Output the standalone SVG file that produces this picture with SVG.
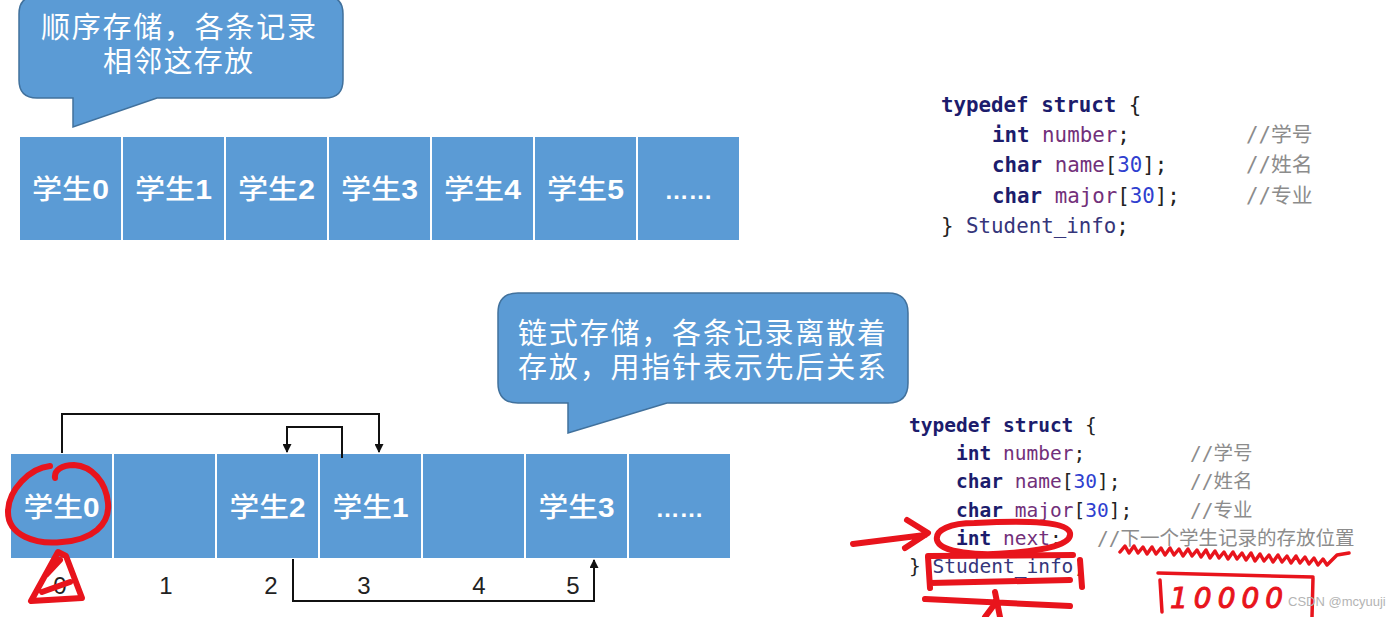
<svg xmlns="http://www.w3.org/2000/svg" width="1395" height="617" viewBox="0 0 1395 617">
<style>
.cell{fill:#5b9bd5;stroke:#ffffff;stroke-width:2}
.lbl{font-family:"Noto Sans CJK SC","Liberation Sans",sans-serif;font-size:27px;fill:#ffffff;text-anchor:middle;font-weight:500}
.lbl .d{font-family:"Liberation Sans",sans-serif;font-weight:bold}
.dots{font-family:"Liberation Sans",sans-serif;font-size:24px;fill:#ffffff;font-weight:bold;text-anchor:middle}
.callout{fill:#5b9bd5;stroke:#41719c;stroke-width:1.5}
.ct{font-family:"Noto Sans CJK SC",sans-serif;font-size:29px;fill:#ffffff}
.idx{font-family:"Liberation Sans",sans-serif;font-size:24px;fill:#222222;text-anchor:middle}
.code1{font-family:"DejaVu Sans Mono","Noto Sans CJK SC",monospace;font-size:20.8px;fill:#222222}
.code2{font-family:"DejaVu Sans Mono","Noto Sans CJK SC",monospace;font-size:19.5px;fill:#222222}
.kw{fill:#1c1c6c;font-weight:bold}
.id{fill:#72307a}
.num{fill:#2f3fcf}
.ty{fill:#35357a}
.cm{fill:#8c8c8c}
.conn{fill:none;stroke:#111111;stroke-width:2}
.red{fill:none;stroke:#e8141c;stroke-width:6;stroke-linecap:round;stroke-linejoin:round}
.redthin{fill:none;stroke:#e8141c;stroke-width:3.5;stroke-linecap:round;stroke-linejoin:round}
</style>
<defs>
<marker id="ah2" viewBox="0 0 10 10" refX="9" refY="5" markerWidth="10" markerHeight="9" orient="auto" markerUnits="userSpaceOnUse">
<path d="M0,0 L10,5 L0,10 Z" fill="#111111"/>
</marker>
</defs>
<rect width="1395" height="617" fill="#ffffff"/>

<!-- Top callout -->
<g id="callout-seq">
<path class="callout" d="M37,-4 H325 Q343,-4 343,14 V80 Q343,98 325,98 H157 L73,127 L73,98 H37 Q19,98 19,80 V14 Q19,-4 37,-4 Z"/>
<text class="ct"><tspan x="41" y="38" textLength="275" lengthAdjust="spacing">顺序存储，各条记录</tspan><tspan x="103" y="72" textLength="150" lengthAdjust="spacing">相邻这存放</tspan></text>
</g>

<!-- Top row (sequential) -->
<g id="seq-0"><rect class="cell" x="19" y="136" width="103" height="105"/><text class="lbl" x="70.5" y="199" textLength="77" lengthAdjust="spacingAndGlyphs">学生<tspan class="d">0</tspan></text></g>
<g id="seq-1"><rect class="cell" x="122" y="136" width="103" height="105"/><text class="lbl" x="173.5" y="199" textLength="77" lengthAdjust="spacingAndGlyphs">学生<tspan class="d">1</tspan></text></g>
<g id="seq-2"><rect class="cell" x="225" y="136" width="103" height="105"/><text class="lbl" x="276.5" y="199" textLength="77" lengthAdjust="spacingAndGlyphs">学生<tspan class="d">2</tspan></text></g>
<g id="seq-3"><rect class="cell" x="328" y="136" width="103" height="105"/><text class="lbl" x="379.5" y="199" textLength="77" lengthAdjust="spacingAndGlyphs">学生<tspan class="d">3</tspan></text></g>
<g id="seq-4"><rect class="cell" x="431" y="136" width="103" height="105"/><text class="lbl" x="482.5" y="199" textLength="77" lengthAdjust="spacingAndGlyphs">学生<tspan class="d">4</tspan></text></g>
<g id="seq-5"><rect class="cell" x="534" y="136" width="103" height="105"/><text class="lbl" x="585.5" y="199" textLength="77" lengthAdjust="spacingAndGlyphs">学生<tspan class="d">5</tspan></text></g>
<g id="seq-6"><rect class="cell" x="637" y="136" width="103" height="105"/><text class="dots" x="688.5" y="199">……</text></g>

<!-- Code block 1 -->
<g id="code-1" class="code1">
<text x="941" y="112"><tspan class="kw">typedef struct</tspan> {</text>
<text x="992" y="142"><tspan class="kw">int</tspan> <tspan class="id">number</tspan>;</text>
<text x="992" y="172"><tspan class="kw">char</tspan> <tspan class="id">name</tspan>[<tspan class="num">30</tspan>];</text>
<text x="992" y="203"><tspan class="kw">char</tspan> <tspan class="id">major</tspan>[<tspan class="num">30</tspan>];</text>
<text x="941" y="233">} <tspan class="ty">Student_info</tspan>;</text>
<text class="cm" x="1246" y="142">//学号</text>
<text class="cm" x="1246" y="172">//姓名</text>
<text class="cm" x="1246" y="203">//专业</text>
</g>

<!-- Bottom callout -->
<g id="callout-link">
<path class="callout" d="M518,293 H888 Q908,293 908,313 V383 Q908,403 888,403 H667 L568,433 L568,403 H518 Q498,403 498,383 V313 Q498,293 518,293 Z"/>
<text class="ct"><tspan x="518" y="344" textLength="368" lengthAdjust="spacing">链式存储，各条记录离散着</tspan><tspan x="518" y="378" textLength="368" lengthAdjust="spacing">存放，用指针表示先后关系</tspan></text>
</g>

<!-- Bottom row (linked) -->
<g id="link-0"><rect class="cell" x="10" y="453" width="103" height="106"/><text class="lbl" x="61.5" y="517" textLength="76" lengthAdjust="spacingAndGlyphs">学生<tspan class="d">0</tspan></text></g>
<g id="link-1"><rect class="cell" x="113" y="453" width="103" height="106"/></g>
<g id="link-2"><rect class="cell" x="216" y="453" width="103" height="106"/><text class="lbl" x="267.5" y="517" textLength="76" lengthAdjust="spacingAndGlyphs">学生<tspan class="d">2</tspan></text></g>
<g id="link-3"><rect class="cell" x="319" y="453" width="103" height="106"/><text class="lbl" x="370.5" y="517" textLength="76" lengthAdjust="spacingAndGlyphs">学生<tspan class="d">1</tspan></text></g>
<g id="link-4"><rect class="cell" x="422" y="453" width="103" height="106"/></g>
<g id="link-5"><rect class="cell" x="525" y="453" width="103" height="106"/><text class="lbl" x="576.5" y="517" textLength="76" lengthAdjust="spacingAndGlyphs">学生<tspan class="d">3</tspan></text></g>
<g id="link-6"><rect class="cell" x="628" y="453" width="103" height="106"/><text class="dots" x="679.5" y="517">……</text></g>

<!-- Index labels -->
<g id="indices">
<text class="idx" x="60" y="594">0</text>
<text class="idx" x="166" y="594">1</text>
<text class="idx" x="271" y="594">2</text>
<text class="idx" x="364" y="594">3</text>
<text class="idx" x="479" y="594">4</text>
<text class="idx" x="573" y="594">5</text>
</g>

<!-- Connectors -->
<g id="connectors">
<path class="conn" d="M62,453 V414 H379 V452" marker-end="url(#ah2)"/>
<path class="conn" d="M342,458 V427 H287 V452" marker-end="url(#ah2)"/>
<path class="conn" d="M293,559 V601 H594 V560" marker-end="url(#ah2)"/>
</g>

<!-- Code block 2 -->
<g id="code-2" class="code2">
<text x="909" y="432"><tspan class="kw">typedef struct</tspan> {</text>
<text x="956" y="460"><tspan class="kw">int</tspan> <tspan class="id">number</tspan>;</text>
<text x="956" y="488"><tspan class="kw">char</tspan> <tspan class="id">name</tspan>[<tspan class="num">30</tspan>];</text>
<text x="956" y="517"><tspan class="kw">char</tspan> <tspan class="id">major</tspan>[<tspan class="num">30</tspan>];</text>
<text x="956" y="545"><tspan class="kw">int</tspan> <tspan class="id">next</tspan>;</text>
<text x="909" y="573">} <tspan class="ty">Student_info</tspan>;</text>
<text class="cm" x="1190" y="460">//学号</text>
<text class="cm" x="1190" y="488">//姓名</text>
<text class="cm" x="1190" y="517">//专业</text>
<text class="cm" x="1097" y="545">//下一个学生记录的存放位置</text>
</g>

<!-- Red handwritten annotations -->
<g id="annotations">
<path class="red" d="M50,466 C30,468 8,490 8,512 C8,535 35,545 62,542 C92,540 110,525 108,503 C106,482 92,466 74,465 C62,465 54,470 55,478"/>
<path class="red" stroke-width="7" d="M58,552 L31,601 L82,598 L66,556 Z M46,575 L60,560 M42,592 L70,582"/>
<path class="red" d="M853,544 L925,535 M907,520 L928,533 L905,548"/>
<path class="red" d="M975,523 C950,523 935,530 937,540 C940,553 980,556 1010,553 C1045,550 1072,545 1070,533 C1068,522 1030,520 975,523"/>
<path class="red" d="M928,557 L930,588 M928,556 L1073,555 M1080,560 L1082,587 M930,583 L1070,580 M925,599 L1070,606 M995,592 L1000,617 M994,605 L985,617"/>
<path class="redthin" d="M1120,552 l5,-6 l4,7 l5,-7 l4,7 l5,-6 l4,7 l5,-7 l4,7 l5,-6 l4,7 l5,-7 l4,7 l5,-6 l4,7 l5,-7 l4,7 l5,-6 l4,7 l5,-7 l4,8 l5,-7 l4,7 l5,-6 l4,7 l5,-7 l4,7 l5,-6 l4,7 l5,-7 l4,8 l5,-7 l4,7 l5,-6 l4,7 l5,-7 l4,7 l5,-6 l4,7 l5,-7 l4,7 l5,-6 l4,7 l5,-6 l4,7 l5,-6 l4,6 l10,-10 l12,-2"/>
<path class="redthin" d="M1158,573 L1313,577 M1160,580 L1162,612 M1313,578 L1312,617"/>
<text x="1170" y="608" font-family="DejaVu Sans, sans-serif" font-style="italic" font-size="28" letter-spacing="6" fill="#e8141c" stroke="#e8141c" stroke-width="1">10000</text>
</g>

<!-- Watermark -->
<text x="1288" y="606" font-family="Liberation Sans, sans-serif" font-size="13" fill="#b4b4b4">CSDN @mcyuuji</text>
</svg>
